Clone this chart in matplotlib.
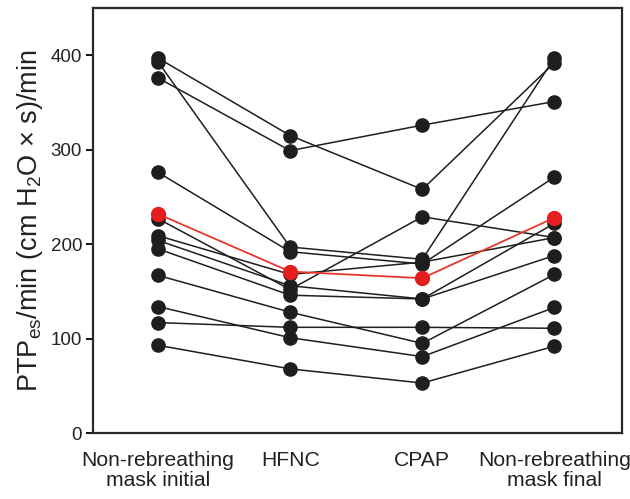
import matplotlib
matplotlib.use('Agg')
import matplotlib.pyplot as plt

plt.rcParams['font.family'] = ['Liberation Sans', 'DejaVu Sans']
plt.rcParams['mathtext.fontset'] = 'custom'
plt.rcParams['mathtext.rm'] = 'Liberation Sans'
plt.rcParams['mathtext.it'] = 'Liberation Sans:italic'

## conditions on the x axis
conditions = ['Non-rebreathing\nmask initial', 'HFNC', 'CPAP', 'Non-rebreathing\nmask final']

## one list per patient: initial, HFNC, CPAP, final
patients = [
    [397, 315, 258, 392],
    [376, 299, 326, 351],
    [393, 197, 184, 397],
    [276, 192, 179, 271],
    [227, 152, 229, 207],
    [209, 168, 181, 207],
    [204, 156, 142, 222],
    [195, 146, 142, 188],
    [167, 128, 95, 168],
    [134, 101, 81, 133],
    [117, 112, 112, 111],
    [93, 68, 53, 92],
]
mean_values = [232, 171, 164, 228]

yticks = [0, 100, 200, 300, 400]

fig = plt.figure(figsize=(6.3, 4.99), dpi=100)
ax = fig.add_axes([0.148, 0.132, 0.839, 0.852])

xs = range(len(conditions))
for p in patients:
    ax.plot(xs, p, color='#1e1e1e', lw=1.1, marker='o', ms=9.5, zorder=2)
ax.plot(xs, mean_values, color='#e8382a', lw=1.3, zorder=3)
ax.plot(xs, mean_values, ls='none', marker='o', ms=10, color='#e51f1f', zorder=4)

ax.set_xlim(-0.49, 3.51)
ax.set_ylim(0, 450)
ax.set_yticks(yticks)
ax.set_xticks(list(xs))
ax.set_xticklabels(conditions, fontsize=15.2, linespacing=1.08, color='#222222')
ax.tick_params(axis='x', length=0, pad=13)
ax.tick_params(axis='y', labelsize=13.5, length=5, width=1.3, direction='out', pad=3,
               labelcolor='#222222')
ax.set_ylabel(r'PTP$_{\mathrm{es}}$/min (cm H$_2$O $\times$ s)/min', fontsize=19.5,
              labelpad=4, color='#222222')

for s in ax.spines.values():
    s.set_linewidth(1.6)
    s.set_color('#2a2a2a')

fig.savefig('out.png', dpi=100)
